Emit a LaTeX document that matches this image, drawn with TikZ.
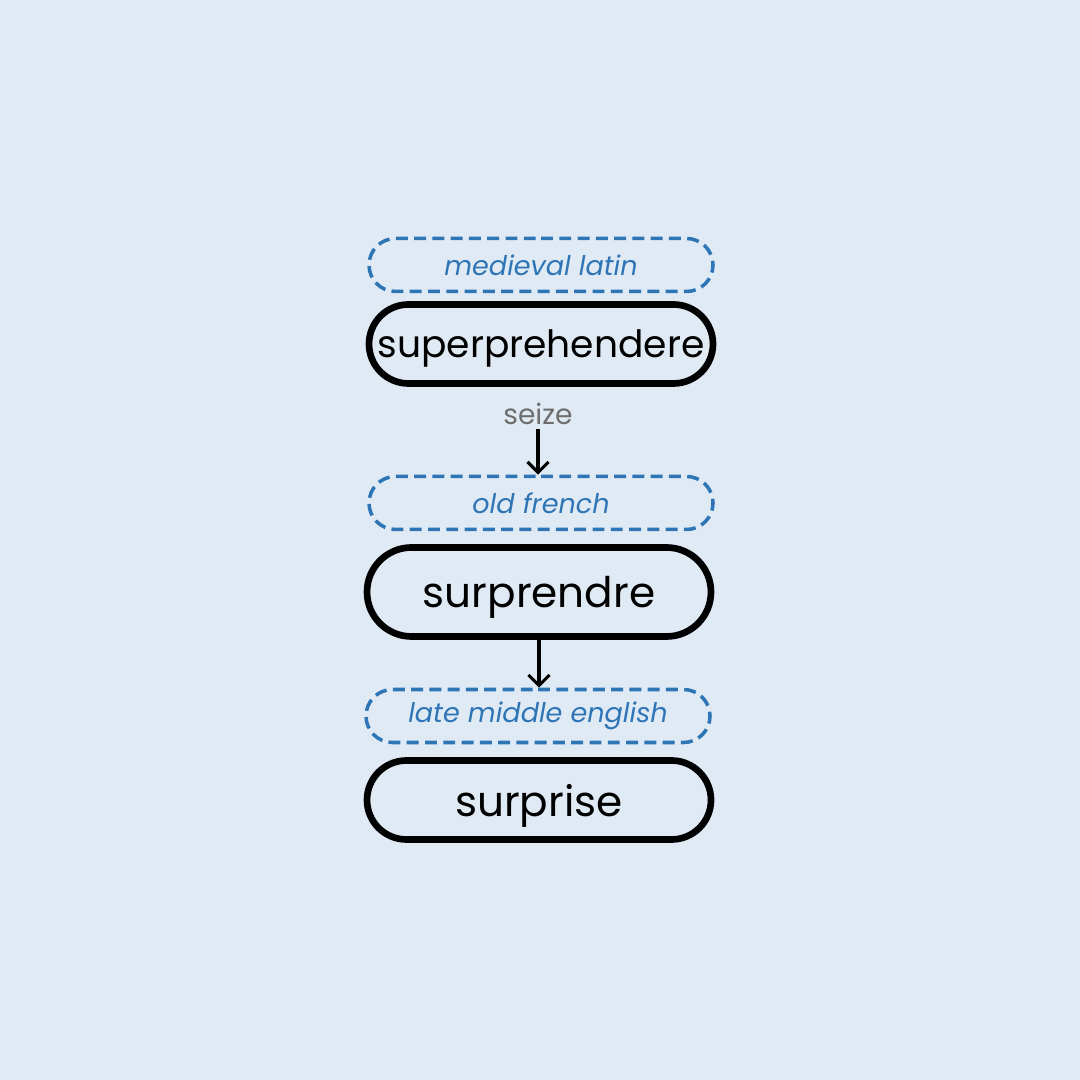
\documentclass[tikz,border=0pt]{standalone}
\usepackage{fontspec}
\setmainfont{Poppins}
\usetikzlibrary{shapes.misc,arrows.meta}
\definecolor{bgblue}{HTML}{E0EAF4}
\definecolor{erablue}{HTML}{2E75B6}
\definecolor{glossgray}{HTML}{6E6E6E}
\newcommand{\bw}{3.44}

\begin{document}
\begin{tikzpicture}[
  era/.style={rounded rectangle,draw=erablue,line width=1pt,
    dash pattern=on 3.4pt off 1.8pt,minimum width=\bw cm,minimum height=0.53cm,
    inner sep=0pt,text=erablue,font=\fontsize{7.7}{9}\selectfont\itshape},
  word/.style={rounded rectangle,draw=black,line width=1.9pt,text depth=0pt,
    minimum width=\bw cm,inner sep=0pt,font=\fontsize{10.7}{12}\selectfont},
  gloss/.style={text=glossgray,inner sep=1pt,font=\fontsize{8}{9}\selectfont},
  evolve/.style={line width=0.9pt,-{Straight Barb[length=3pt,width=6pt]}}
  ]
\fill[bgblue] (0,0) rectangle (10.8,10.8);
\useasboundingbox (0,0) rectangle (10.8,10.8);

% medieval latin
\node[era] (lat) at (5.41,8.15) {medieval latin};
\node[word,minimum height=0.79cm] (sup) at (5.41,7.36) {superprehendere};
\node[gloss] (seize) at (5.38,6.66) {seize};

% old french
\node[era] (ofr) at (5.41,5.77) {old french};
\node[word,minimum height=0.89cm,font=\fontsize{12}{14}\selectfont] (surpr) at (5.39,4.88) {surprendre};

% late middle english
\node[era] (lme) at (5.38,3.64) {late middle english};
\node[word,minimum height=0.79cm,font=\fontsize{12}{14}\selectfont] (surprise) at (5.39,2.80) {surprise};

\draw[evolve] (seize.south) -- (seize.south |- ofr.north);
\draw[evolve] (surpr.south) -- (surpr.south |- lme.north);
\end{tikzpicture}
\end{document}
